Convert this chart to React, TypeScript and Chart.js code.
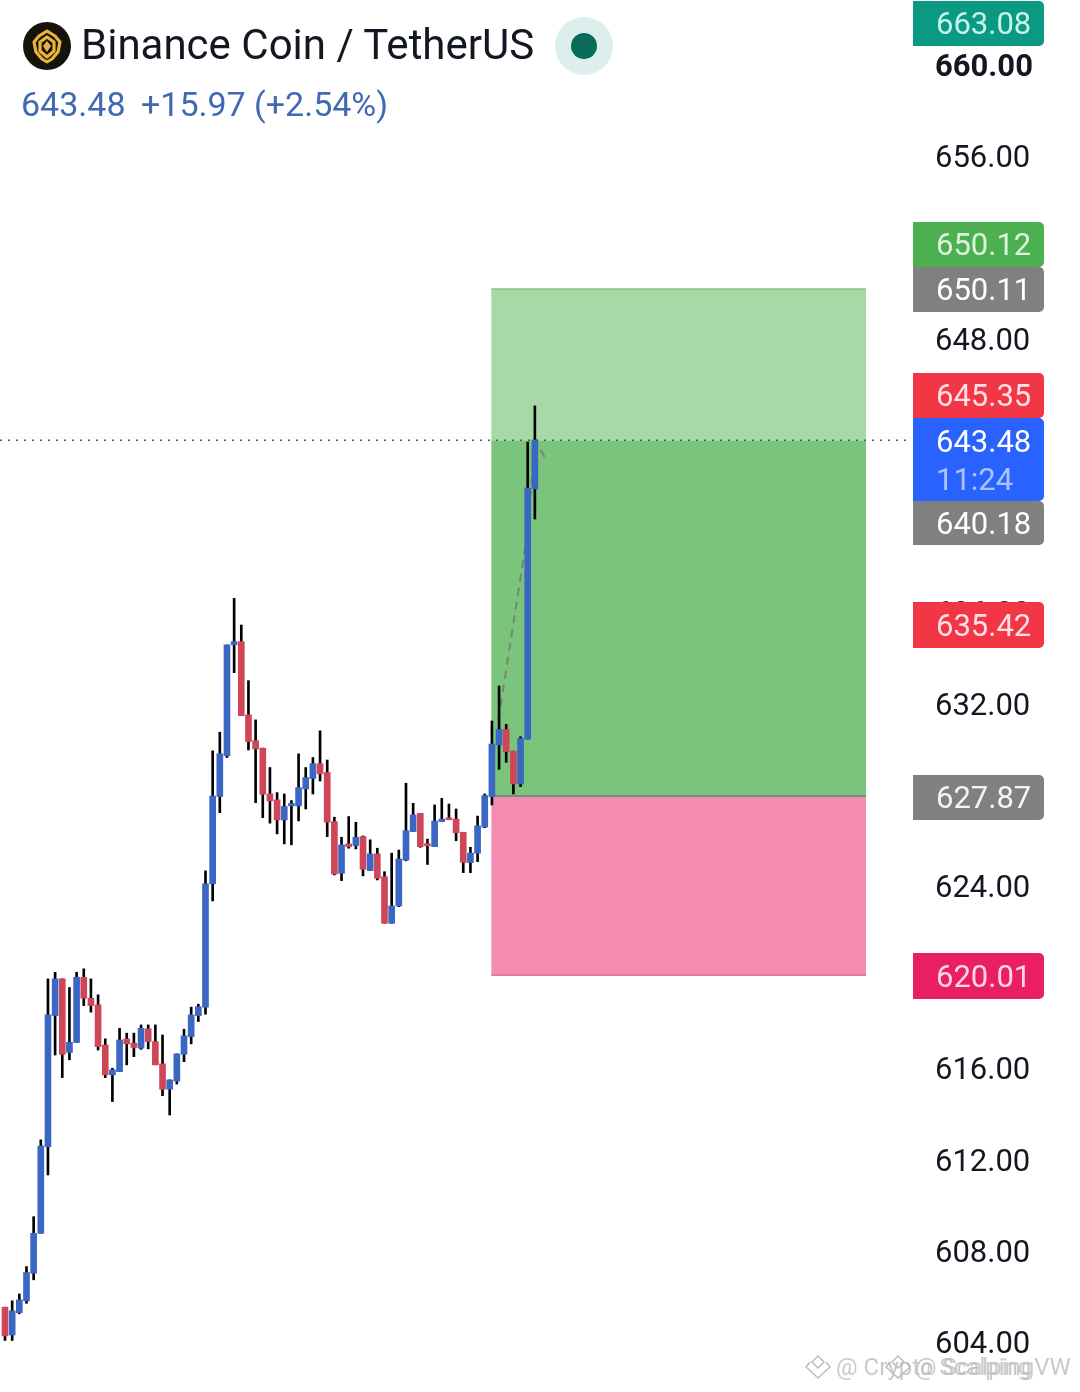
import React, { useEffect, useRef } from "react";
import { Chart, registerables } from "chart.js";

Chart.register(...registerables);

const opens = [605.45,604.23,605.21,605.73,606.94,608.69,612.49,618.24,619.85,616.62,617.06,619.92,619.0,618.71,616.95,615.64,615.78,617.22,617.03,616.81,617.66,617.1,616.12,615.01,615.37,616.54,617.32,618.24,618.61,624.02,627.85,629.64,634.5,634.64,631.43,630.3,629.97,627.96,627.7,626.82,627.44,627.44,628.18,628.64,629.29,628.9,626.75,624.48,625.77,625.7,626.09,624.6,625.33,624.33,622.29,623.05,625.06,626.31,627.11,625.78,625.65,626.75,626.91,626.86,626.28,624.95,625.36,626.51,627.84,630.11,630.79,629.84,628.4,630.36,641.34];
const highs = [605.45,605.73,606.03,607.23,609.42,612.79,619.85,620.14,619.85,619.47,620.14,620.29,619.85,619.15,617.22,615.93,617.68,617.47,617.47,617.83,617.83,617.83,617.39,615.42,616.56,617.64,618.61,618.74,624.59,629.85,630.67,634.5,636.54,635.37,632.93,631.21,629.97,629.12,628.02,627.96,627.67,629.72,629.12,629.56,630.73,629.45,626.94,626.06,626.97,626.72,626.12,625.95,625.58,624.55,625.36,625.5,628.43,627.55,627.11,625.98,627.48,627.77,627.52,627.3,626.28,625.62,626.99,627.96,631.16,632.7,631.01,629.84,630.47,643.4,644.98];
const lows = [603.99,603.99,605.16,605.62,606.65,608.69,611.25,616.51,615.52,616.3,617.06,618.68,618.39,616.73,615.52,614.47,615.78,616.08,616.44,616.76,616.78,616.08,614.73,613.88,615.24,616.22,617.0,617.98,618.3,623.27,627.14,629.56,633.28,631.4,629.89,627.58,626.92,626.68,626.21,625.77,625.73,626.78,627.3,627.96,628.53,626.09,624.41,624.16,625.58,625.55,624.37,624.6,624.19,622.29,622.29,623.02,625.03,626.31,625.62,624.87,625.65,626.75,626.83,625.91,624.51,624.51,624.99,626.48,627.48,629.04,629.35,627.96,628.28,630.36,640.02];
const closes = [604.19,605.29,605.77,606.97,608.69,612.52,618.27,619.85,616.54,617.07,619.92,619.0,618.68,616.88,615.64,615.86,617.17,617.0,616.84,617.68,617.1,616.08,615.01,615.42,616.56,617.35,618.27,618.63,624.02,627.87,629.72,634.5,634.64,631.4,630.26,629.94,627.95,627.66,626.82,627.41,627.54,628.24,628.68,629.29,628.84,626.72,624.45,625.73,625.65,626.06,624.66,625.33,624.26,622.29,623.05,625.11,626.35,627.04,625.65,625.69,626.77,626.86,626.83,626.26,624.96,625.37,626.56,627.89,630.15,630.79,629.82,628.4,630.4,641.38,643.49];

const tickValues = [604,608,612,616,620,624,628,632,636,640,644,648,652,656,660];
const boldTick = 660;

const takeProfit = 650.11;
const lastPrice = 643.48;
const entry = 627.87;
const stopLoss = 620.01;
const zoneStart = 67.9;
const zoneEnd = 120.25;

const pathX = [68.9, 73.0, 74.0, 75.6];
const pathY = [631.2, 639.5, 643.48, 642.6];

const tagTexts = ["663.08","650.12","650.11","645.35","643.48","640.18","635.42","627.87","620.01"];
const tagColors = ["#0a9a84","#4caf50","#808080","#f23645","#2962ff","#808080","#f23645","#808080","#e91e63"];
const tagInk = ["#c4f5ea","#dcf3dc","#ffffff","#ffe0e3","#ffffff","#ffffff","#ffe0e3","#f4f4f4","#ffd6e4"];
const tagTops = [1,222,267,373,418,501,602,775,953];
const tagHeights = [45,45,45,45,83,44,46,45,46];

const index = opens.map((_, i) => i);

const scaleRight = 907;
const rowHeight = 1392;

const tagPlugin = {
  id: "priceTags",
  afterDraw(chart: any) {
    const c = chart.ctx;
    c.save();
    tagTexts.forEach((t, i) => {
      c.fillStyle = tagColors[i];
      c.beginPath();
      c.roundRect(913, tagTops[i], 131, tagHeights[i], [0, 5, 5, 0]);
      c.fill();
      c.font = "31px Roboto";
      c.textBaseline = "middle";
      c.textAlign = "left";
      c.fillStyle = tagInk[i];
      const two = t === "643.48";
      c.fillText(t, 936, tagTops[i] + (two ? 26 : tagHeights[i] / 2 + 3));
      if (two) {
        c.fillStyle = "#a9c4ff";
        c.fillText("11:24", 936, tagTops[i] + 64);
      }
    });
    c.restore();
  },
};

function zone(y: number, to: number, fill: string, line: string) {
  return {
    type: "line",
    data: [{ x: zoneStart, y }, { x: zoneEnd, y }],
    backgroundColor: fill,
    borderColor: line,
    borderWidth: 1.5,
    pointRadius: 0,
    fill: { value: to },
    order: 6,
  };
}

function Logo() {
  return (
    <svg width="48" height="48" viewBox="0 0 48 48" style={{ position: "absolute", left: 23, top: 22 }}>
      <circle cx="24" cy="24" r="24" fill="#16130c" />
      <g fill="none" stroke="#e8b53a" strokeWidth="3.2" strokeLinejoin="round">
        <path d="M24 9 L32 14 L37 20 L35 30 L29 37 L24 40 L19 37 L13 30 L11 20 L16 14 Z" />
        <path d="M17 20 L24 15 L31 20 L31 29 L24 35 L17 29 Z" />
      </g>
      <path d="M24 19 L28 24 L24 30 L20 24 Z" fill="#e8b53a" />
    </svg>
  );
}

function Diamond({ left }: { left: number }) {
  return (
    <svg width="28" height="26" viewBox="0 0 28 26" style={{ position: "absolute", left, top: 1354 }}>
      <g fill="none" stroke="#bdbdbd" strokeWidth="1.5">
        <path d="M14 2 L20 8 L14 14 L8 8 Z" />
        <path d="M6 8 L2 13 L14 24 L26 13 L22 8" />
      </g>
    </svg>
  );
}

export default function App() {
  const ref = useRef<HTMLCanvasElement>(null);
  useEffect(() => {
    const chart = new Chart(ref.current as HTMLCanvasElement, {
      type: "bar",
      data: {
        datasets: [
          zone(takeProfit, lastPrice, "#a6d9a6", "#86c486"),
          { ...zone(lastPrice, entry, "#7bc47b", "rgba(0,0,0,0)") },
          zone(stopLoss, entry, "#f48cb1", "#e0789c"),
          {
            type: "line",
            data: [{ x: zoneStart, y: entry }, { x: zoneEnd, y: entry }],
            borderColor: "#7f8a80",
            borderWidth: 2,
            pointRadius: 0,
            order: 5,
          },
          {
            type: "line",
            data: pathX.map((x, i) => ({ x, y: pathY[i] })),
            borderColor: "#75857a",
            borderWidth: 2,
            borderDash: [8, 6],
            pointRadius: 0,
            order: 4,
          },
          {
            label: "wick",
            data: index.map((i) => ({ x: i, y: [lows[i], highs[i]] })),
            backgroundColor: "#000000",
            barThickness: 2,
            grouped: false,
            order: 3,
          },
          {
            label: "body",
            data: index.map((i) => ({ x: i, y: [opens[i], closes[i]] })),
            backgroundColor: index.map((i) => (closes[i] >= opens[i] ? "#3a66c4" : "#cf4656")),
            barThickness: 6,
            grouped: false,
            order: 2,
          },
          {
            type: "line",
            data: [{ x: -0.7, y: lastPrice }, { x: 126, y: lastPrice }],
            borderColor: "#1f6f68",
            borderWidth: 1.5,
            borderDash: [2, 6],
            pointRadius: 0,
            order: 1,
          },
        ] as any,
      },
      options: {
        responsive: false,
        animation: false,
        layout: { padding: 0 },
        plugins: { legend: { display: false }, title: { display: false }, tooltip: { enabled: false } },
        scales: {
          x: {
            type: "linear",
            display: false,
            offset: false,
            min: -0.698,
            max: 125.97,
          },
          y: {
            position: "right",
            min: 601.73,
            max: 662.785,
            grid: { display: false, drawTicks: false },
            border: { display: false },
            afterFit(axis: any) {
              axis.width = 1080 - scaleRight;
              axis.paddingTop = 0;
              axis.paddingBottom = 0;
            },
            afterBuildTicks(axis: any) {
              axis.ticks = tickValues.map((value) => ({ value }));
            },
            ticks: {
              padding: 28,
              labelOffset: 5,
              color: "#131722",
              autoSkip: false,
              maxRotation: 0,
              callback: (v: any) => Number(v).toFixed(2),
              font: (ctx: any) => ({
                family: "Roboto",
                size: 31,
                weight: ctx.tick && ctx.tick.value === boldTick ? "bold" : "normal",
              }),
            },
          },
        },
      } as any,
      plugins: [tagPlugin as any],
    });
    return () => chart.destroy();
  }, []);

  return (
    <div style={{ position: "absolute", left: 0, top: 0, width: 1080, height: rowHeight, overflow: "hidden", background: "#ffffff", fontFamily: "Roboto" }}>
      <canvas ref={ref} width={1080} height={rowHeight} style={{ display: "block", position: "absolute", left: 0, top: 0 }} />
      <Logo />
      <div style={{ position: "absolute", left: 81, top: 21, fontSize: 42, lineHeight: "48px", color: "#131722", whiteSpace: "nowrap" }}>Binance Coin / TetherUS</div>
      <div style={{ position: "absolute", left: 555, top: 17, width: 58, height: 58, borderRadius: "50%", background: "#dcefec" }} />
      <div style={{ position: "absolute", left: 571, top: 33, width: 26, height: 26, borderRadius: "50%", background: "#0b6b5a" }} />
      <div style={{ position: "absolute", left: 21, top: 84, fontSize: 34, lineHeight: "40px", color: "#4169b3", whiteSpace: "nowrap" }}>643.48</div>
      <div style={{ position: "absolute", left: 141, top: 84, fontSize: 34, lineHeight: "40px", color: "#4169b3", whiteSpace: "nowrap" }}>+15.97 (+2.54%)</div>
      <Diamond left={804} />
      <Diamond left={884} />
      <div style={{ position: "absolute", left: 836, top: 1352, fontSize: 24, lineHeight: "30px", color: "#bdbdbd", whiteSpace: "nowrap", opacity: 0.8 }}>@ Crypto Scalping</div>
      <div style={{ position: "absolute", left: 915, top: 1352, fontSize: 24, lineHeight: "30px", color: "#bdbdbd", whiteSpace: "nowrap", opacity: 0.8 }}>@ ScalpingVW</div>
    </div>
  );
}
